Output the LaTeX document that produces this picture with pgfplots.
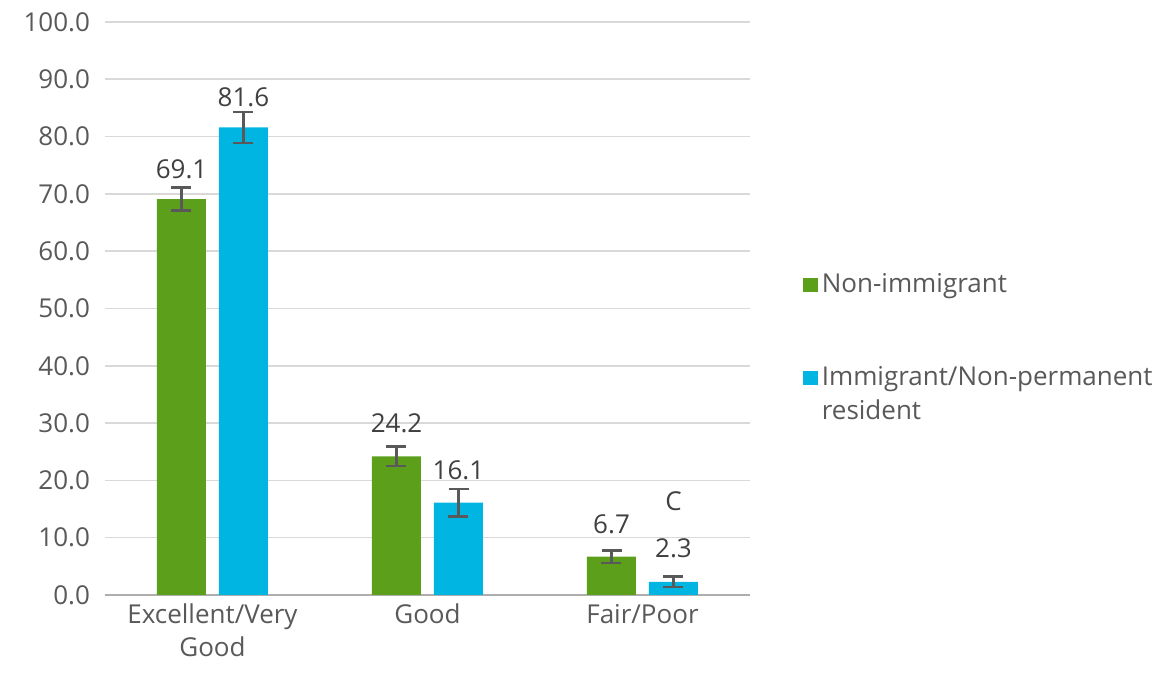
\documentclass[border=0pt]{standalone}
\usepackage{fontspec}
\setmainfont{Open Sans}
\usepackage{pgfplots}
\pgfplotsset{compat=1.18}
\usepackage{pgfplotstable}

\definecolor{cgreen}{HTML}{5B9F1B}
\definecolor{cblue}{HTML}{00B5E2}
\definecolor{ctext}{HTML}{595959}
\definecolor{clab}{HTML}{404040}
\definecolor{cgrid}{HTML}{D9D9D9}
\definecolor{cerr}{HTML}{595959}

% x, value, error
\pgfplotstableread{
x y err
0 69.1 2.0
1 24.2 1.7
2 6.7 1.1
}\nonimm
\pgfplotstableread{
x y err
0 81.6 2.7
1 16.1 2.4
2 2.3 0.9
}\immig
% label positions (baseline)
\pgfplotstableread{
x y label
-0.144 72.6 69.1
0.856 28.3 24.2
1.856 10.8 6.7
0.144 85.3 81.6
1.144 20.1 16.1
2.144 6.6 2.3
2.144 14.7 C
}\labels

\begin{document}
\fontsize{13}{16}\selectfont
\begin{tikzpicture}[x=1pt,y=1pt]
\useasboundingbox (-52.5,-44.5) rectangle (532,297.5);
\begin{axis}[
  scale only axis,
  width=322.5pt, height=286.5pt,
  at={(0,0)}, anchor=south west,
  xmin=-0.5, xmax=2.5,
  ymin=0, ymax=100,
  ytick={0,10,...,100},
  xtick={0,1,2},
  xticklabels={{Excellent/Very\\Good},{Good},{Fair/Poor}},
  xticklabel style={align=center, text=ctext, font=\fontsize{13}{16.5}\selectfont},
  yticklabel style={text=ctext, xshift=-3pt},
  /pgf/number format/.cd, fixed, fixed zerofill, precision=1, assume math mode=true,
  /pgfplots/.cd,
  major tick length=0pt,
  ymajorgrids, grid style={cgrid, line width=0.8pt},
  axis line style={draw=none},
  extra y ticks={0}, extra y tick labels={},
  extra y tick style={grid style={draw=cgrid!80!black, line width=0.8pt}},
  clip=false,
  ybar, bar width=24.5pt,
  legend style={draw=none, at={(1.072,0.576)}, anchor=north west,
    cells={anchor=base west}, row sep=28.5pt, text=ctext,
    font=\fontsize{13}{17}\selectfont, /tikz/every even column/.append style={column sep=7.5pt}},
  legend image code/.code={\fill[#1] (0pt,0pt) rectangle (7.5pt,7pt);},
]
\addplot[fill=cgreen, draw=none, bar shift=-15.5pt,
  error bars/.cd, y dir=both, y explicit,
  error bar style={cerr, line width=1.3pt},
  error mark options={cerr, line width=1.3pt, mark size=5pt, rotate=90}]
  table[x=x, y=y, y error=err] {\nonimm};
\addlegendentry{Non-immigrant}
\addplot[fill=cblue, draw=none, bar shift=15.5pt,
  error bars/.cd, y dir=both, y explicit,
  error bar style={cerr, line width=1.3pt},
  error mark options={cerr, line width=1.3pt, mark size=5pt, rotate=90}]
  table[x=x, y=y, y error=err] {\immig};
\addlegendentry{\begin{tabular}[t]{@{}l@{}}Immigrant/Non-permanent\\resident\end{tabular}}
\addplot[draw=none, fill=none, bar shift=0pt, forget plot, nodes near coords,
  point meta=explicit symbolic,
  nodes near coords style={anchor=base, text=clab, inner sep=0pt, font=\fontsize{13}{16}\selectfont}]
  table[x=x, y=y, meta=label] {\labels};
\end{axis}
\end{tikzpicture}
\end{document}
